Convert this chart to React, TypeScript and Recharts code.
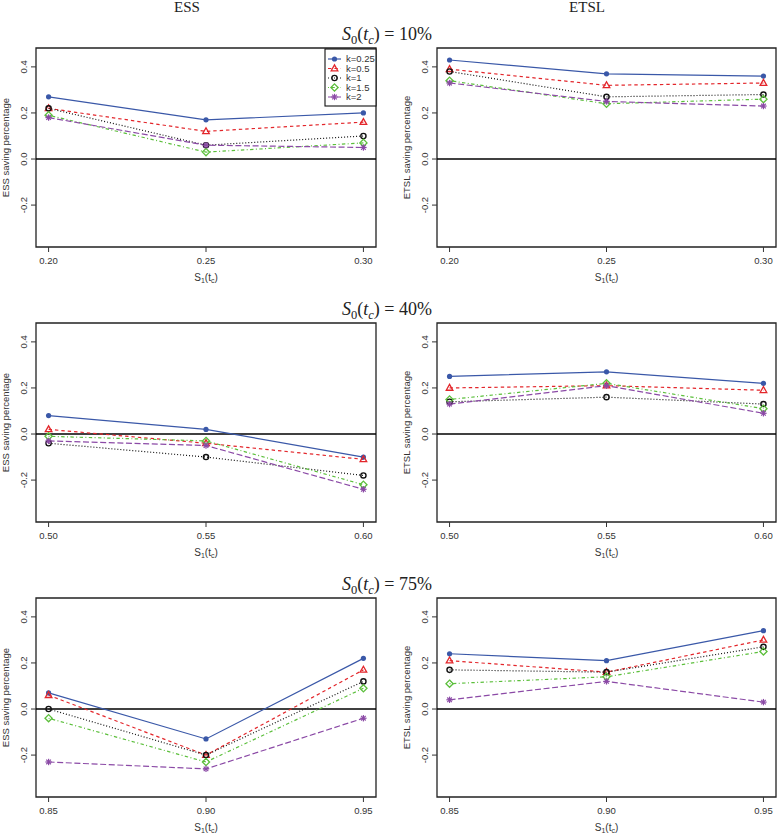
import React from 'react';
import { LineChart, Line, XAxis, YAxis, ReferenceLine, ReferenceArea } from 'recharts';

// ---- data ----
const seriesNames = ['k=0.25', 'k=0.5', 'k=1', 'k=1.5', 'k=2'];
const seriesKeys = ['k025', 'k05', 'k1', 'k15', 'k2'];
const seriesColors = ['#3a58a8', '#e3262b', '#111111', '#5cbf3c', '#8b4aa6'];
const seriesDash = ['', '3.4 3', '1 2', '1 2.4 3.4 2.4', '6 2.6'];

const s1Low = [0.2, 0.25, 0.3];
const s1Mid = [0.5, 0.55, 0.6];
const s1High = [0.85, 0.9, 0.95];

const xTicksLow = [0.2, 0.25, 0.3];
const xTicksMid = [0.5, 0.55, 0.6];
const xTicksHigh = [0.85, 0.9, 0.95];
const yTicks = [-0.2, 0, 0.2, 0.4];

// rows: k=0.25, k=0.5, k=1, k=1.5, k=2 ; columns follow the S1(tc) values
const ess10 = [
  [0.27, 0.17, 0.2],
  [0.22, 0.12, 0.16],
  [0.22, 0.06, 0.1],
  [0.19, 0.03, 0.07],
  [0.18, 0.06, 0.05],
];
const etsl10 = [
  [0.43, 0.37, 0.36],
  [0.39, 0.32, 0.33],
  [0.38, 0.27, 0.28],
  [0.34, 0.24, 0.26],
  [0.33, 0.25, 0.23],
];
const ess40 = [
  [0.08, 0.02, -0.1],
  [0.02, -0.04, -0.11],
  [-0.04, -0.1, -0.18],
  [-0.01, -0.03, -0.22],
  [-0.03, -0.05, -0.24],
];
const etsl40 = [
  [0.25, 0.27, 0.22],
  [0.2, 0.21, 0.19],
  [0.14, 0.16, 0.13],
  [0.15, 0.22, 0.11],
  [0.13, 0.21, 0.09],
];
const ess75 = [
  [0.07, -0.13, 0.22],
  [0.06, -0.2, 0.17],
  [0.0, -0.2, 0.12],
  [-0.04, -0.23, 0.09],
  [-0.23, -0.26, -0.04],
];
const etsl75 = [
  [0.24, 0.21, 0.34],
  [0.21, 0.16, 0.3],
  [0.17, 0.16, 0.27],
  [0.11, 0.14, 0.25],
  [0.04, 0.12, 0.03],
];

const rowTitles = ['10%', '40%', '75%'];
const colTitles = ['ESS', 'ETSL'];
const yTitles = ['ESS saving percentage', 'ETSL saving percentage'];

const SANS = '"Liberation Sans", Arial, Helvetica, sans-serif';
const SERIF = '"Liberation Serif", "Times New Roman", serif';
const Y_DOMAIN: [number, number] = [-0.382, 0.482];

function Marker({ i, cx, cy }: { i: number; cx: number; cy: number }) {
  const c = seriesColors[i];
  if (i === 0) return <circle cx={cx} cy={cy} r={2.6} fill={c} />;
  if (i === 1)
    return (
      <polygon
        points={`${cx},${cy - 3.6} ${cx - 3.3},${cy + 2.3} ${cx + 3.3},${cy + 2.3}`}
        fill="none"
        stroke={c}
        strokeWidth={1.3}
      />
    );
  if (i === 2) return <circle cx={cx} cy={cy} r={2.6} fill="none" stroke={c} strokeWidth={1.4} />;
  if (i === 3)
    return (
      <polygon
        points={`${cx},${cy - 3.6} ${cx + 3.6},${cy} ${cx},${cy + 3.6} ${cx - 3.6},${cy}`}
        fill="none"
        stroke={c}
        strokeWidth={1.3}
      />
    );
  const s = 3.2;
  const d = 2.3;
  return (
    <g stroke={c} strokeWidth={1.2}>
      <line x1={cx - s} y1={cy} x2={cx + s} y2={cy} />
      <line x1={cx} y1={cy - s} x2={cx} y2={cy + s} />
      <line x1={cx - d} y1={cy - d} x2={cx + d} y2={cy + d} />
      <line x1={cx - d} y1={cy + d} x2={cx + d} y2={cy - d} />
    </g>
  );
}

const makeDot = (i: number) => (props: any) => {
  const { cx, cy, index } = props;
  if (cx == null || cy == null) return <g key={`d${i}-${index}`} />;
  return (
    <g key={`d${i}-${index}`}>
      <Marker i={i} cx={cx} cy={cy} />
    </g>
  );
};

const YTick = (props: any) => {
  const { x, y, payload } = props;
  return (
    <text
      transform={`translate(${x - 2},${y}) rotate(-90)`}
      textAnchor="middle"
      fontSize={9.5}
      fill="#333"
      fontFamily={SANS}
    >
      {Number(payload.value).toFixed(1)}
    </text>
  );
};

type PanelProps = {
  left: number;
  top: number;
  col: number;
  xs: number[];
  vals: number[][];
  xTicks: number[];
};

function Panel({ left, top, col, xs, vals, xTicks }: PanelProps) {
  const width = col === 0 ? 390 : 387;
  const yAxisW = col === 0 ? 36 : 47;
  const rightM = col === 0 ? 14 : 1;
  const step = xs[xs.length - 1] - xs[0];
  const xDomain: [number, number] = [xs[0] - step * 0.04, xs[xs.length - 1] + step * 0.04];
  const data = xs.map((x, j) => {
    const row: any = { x };
    seriesKeys.forEach((k, i) => {
      row[k] = vals[i][j];
    });
    return row;
  });
  return (
    <div style={{ position: 'absolute', left, top }}>
      <LineChart width={width} height={290} data={data} margin={{ top: 48, right: rightM, bottom: 13, left: 0 }}>
        <XAxis
          dataKey="x"
          type="number"
          domain={xDomain}
          ticks={xTicks}
          allowDataOverflow
          axisLine={false}
          tickLine={{ stroke: '#333' }}
          tickSize={5}
          tickMargin={5}
          height={30}
          interval={0}
          tick={{ fontSize: 9.5, fill: '#333', fontFamily: SANS }}
          tickFormatter={(v: number) => v.toFixed(2)}
        />
        <YAxis
          type="number"
          domain={Y_DOMAIN}
          ticks={yTicks}
          allowDataOverflow
          axisLine={false}
          tickLine={{ stroke: '#333' }}
          tickSize={5}
          tickMargin={2}
          width={yAxisW}
          interval={0}
          tick={<YTick />}
        />
        <ReferenceLine y={0} stroke="#000" strokeWidth={1.4} ifOverflow="visible" />
        {seriesKeys.map((k, i) => (
          <Line
            key={k}
            type="linear"
            dataKey={k}
            name={seriesNames[i]}
            stroke={seriesColors[i]}
            strokeWidth={1.2}
            strokeDasharray={seriesDash[i] || undefined}
            dot={makeDot(i)}
            activeDot={false}
            isAnimationActive={false}
          />
        ))}
        <ReferenceArea
          x1={xDomain[0]}
          x2={xDomain[1]}
          y1={Y_DOMAIN[0]}
          y2={Y_DOMAIN[1]}
          fill="none"
          fillOpacity={0}
          stroke="#222"
          strokeWidth={1.3}
          ifOverflow="visible"
        />
      </LineChart>
    </div>
  );
}

function Overlay() {
  const plotLeft = [36, 437];
  const plotCenter = [206, 606.5];
  const colCenter = [187, 587];
  return (
    <svg
      width={777}
      height={833}
      style={{ position: 'absolute', left: 0, top: 0, pointerEvents: 'none' }}
    >
      {colTitles.map((t, c) => (
        <text key={t} x={colCenter[c]} y={12} textAnchor="middle" fontFamily={SERIF} fontSize={15} fill="#222">
          {t}
        </text>
      ))}
      {rowTitles.map((p, r) => (
        <text key={p} x={387} y={40 + 275 * r} textAnchor="middle" fontFamily={SERIF} fontSize={18} fill="#222">
          <tspan fontStyle="italic">S</tspan>
          <tspan fontSize={12.5} dy={4}>0</tspan>
          <tspan dy={-4}>(</tspan>
          <tspan fontStyle="italic">t</tspan>
          <tspan fontSize={12.5} fontStyle="italic" dy={4}>c</tspan>
          <tspan dy={-4}>{`) = ${p}`}</tspan>
        </text>
      ))}
      {[0, 1, 2].map((r) =>
        [0, 1].map((c) => (
          <g key={`t${r}${c}`}>
            <text
              transform={`translate(${plotLeft[c] - 27.5},${147.5 + 275 * r}) rotate(-90)`}
              textAnchor="middle"
              fontFamily={SANS}
              fontSize={9.5}
              fill="#333"
            >
              {yTitles[c]}
            </text>
            <text x={plotCenter[c]} y={281 + 275 * r} textAnchor="middle" fontFamily={SANS} fontSize={10} fill="#333">
              <tspan>S</tspan>
              <tspan fontSize={7} dy={2}>1</tspan>
              <tspan dy={-2}>(t</tspan>
              <tspan fontSize={7} dy={2}>c</tspan>
              <tspan dy={-2}>)</tspan>
            </text>
          </g>
        ))
      )}
      <g>
        <rect x={325} y={49} width={51} height={57} fill="#fff" stroke="#111" strokeWidth={1.1} />
        {seriesNames.map((n, i) => {
          const y = 59 + 9.5 * i;
          return (
            <g key={n}>
              <line
                x1={328}
                x2={341}
                y1={y}
                y2={y}
                stroke={seriesColors[i]}
                strokeWidth={1.2}
                strokeDasharray={seriesDash[i] || undefined}
              />
              <Marker i={i} cx={334.5} cy={y} />
              <text x={346} y={y + 3.4} fontFamily={SANS} fontSize={9.5} fill="#333">
                {n}
              </text>
            </g>
          );
        })}
      </g>
    </svg>
  );
}

export default function App() {
  return (
    <div
      style={{
        position: 'absolute',
        left: 0,
        top: 0,
        width: 777,
        height: 833,
        overflow: 'hidden',
        background: '#fff',
      }}
    >
      <Panel left={0} top={0} col={0} xs={s1Low} vals={ess10} xTicks={xTicksLow} />
      <Panel left={390} top={0} col={1} xs={s1Low} vals={etsl10} xTicks={xTicksLow} />
      <Panel left={0} top={275} col={0} xs={s1Mid} vals={ess40} xTicks={xTicksMid} />
      <Panel left={390} top={275} col={1} xs={s1Mid} vals={etsl40} xTicks={xTicksMid} />
      <Panel left={0} top={550} col={0} xs={s1High} vals={ess75} xTicks={xTicksHigh} />
      <Panel left={390} top={550} col={1} xs={s1High} vals={etsl75} xTicks={xTicksHigh} />
      <Overlay />
    </div>
  );
}
